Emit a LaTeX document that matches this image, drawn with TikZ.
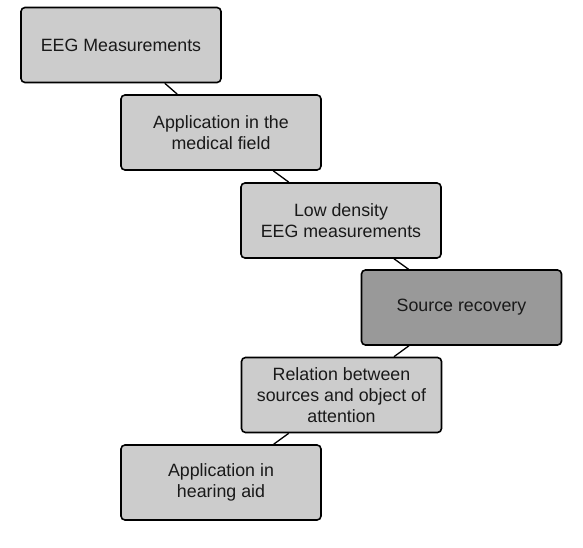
\documentclass[tikz,border=0pt]{standalone}
\usepackage{fontspec}
\setmainfont{Liberation Sans}
\usepackage{tikz}

\definecolor{boxgray}{HTML}{CCCCCC}
\definecolor{darkgray}{HTML}{999999}

\begin{document}
\begin{tikzpicture}[x=1pt, y=-1pt,
    box/.style={draw=black, line width=1.6pt, fill=boxgray, rounded corners=4pt,
      minimum width=200pt, minimum height=75pt, align=center,
      font=\fontsize{17.8}{21}\selectfont, text=black!90},
    link/.style={line width=1.3pt}]
    \useasboundingbox (0,0) rectangle (583,548);
    \node[box] (eeg) at (121,45) {EEG Measurements};
    \node[box] (medical) at (221,132.5) {Application in the\\medical field};
    \node[box] (lowdens) at (341,220.5) {Low density\\EEG measurements};
    \node[box, fill=darkgray] (source) at (461.5,307.5) {Source recovery};
    \node[box] (relation) at (341.5,395) {Relation between\\sources and object of\\attention};
    \node[box] (hearing) at (221,482.5) {Application in\\hearing aid};
    % connectors between neighbouring boxes
    \foreach \a/\b in {eeg/medical, medical/lowdens, lowdens/source, source/relation, relation/hearing}
      \draw[link] (\a) -- (\b);
\end{tikzpicture}
\end{document}
